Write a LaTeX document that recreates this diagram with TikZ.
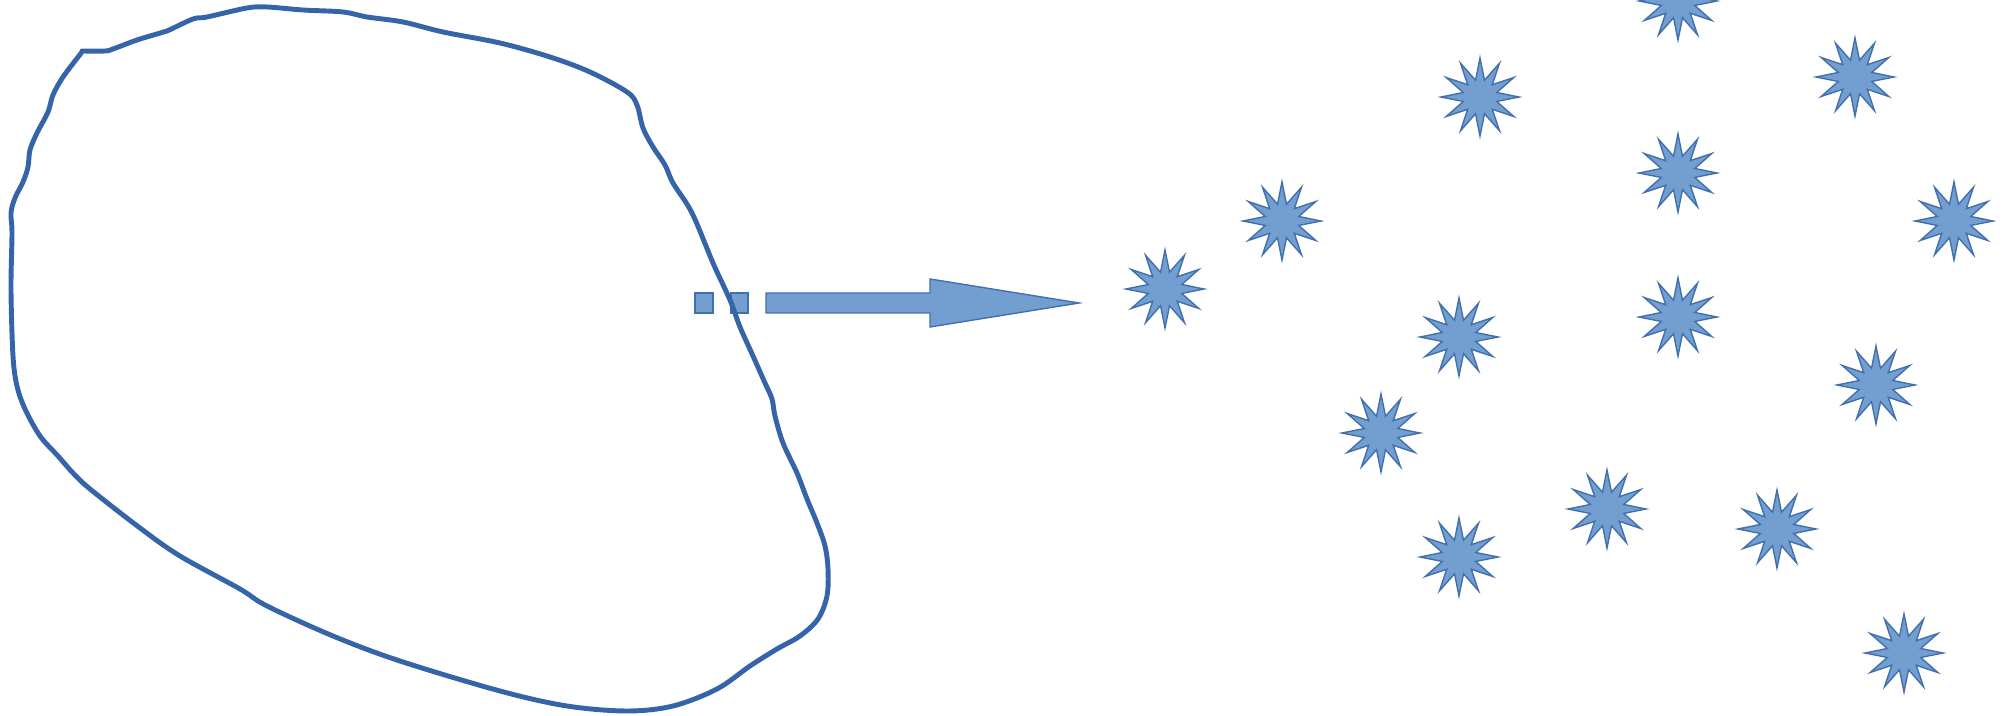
\documentclass[tikz,border=0pt]{standalone}
\usepackage{tikz}
\usetikzlibrary{shapes.geometric}
\definecolor{blobline}{HTML}{3565A8}
\definecolor{burstfill}{HTML}{729FCF}
\definecolor{burstline}{HTML}{4270AE}

\begin{document}
\begin{tikzpicture}[x=0.01cm,y=-0.01cm,
  burst/.style={star,star points=12,star point ratio=2.25,minimum size=0.78cm,
    inner sep=0pt,fill=burstfill,draw=burstline,line width=0.4pt},
  block/.style={fill=burstfill,draw=burstline,line width=0.4pt}]
\useasboundingbox (0,0) rectangle (2002,716);
\clip (0,0) rectangle (2002,716);
\draw[block] (695,293) rectangle (713,313);
\draw[block] (731,293) rectangle (748,313);
\draw[block] (766,293) -- (930,293) -- (930,279) -- (1079,303)
  -- (930,327) -- (930,313) -- (766,313) -- cycle;
\draw[blobline,line width=1.4pt,line join=round,line cap=round]
  plot[smooth,tension=0.55] coordinates {
  (82,51) (105,51) (113,49) (137,40) (157,34) (167,31) (193,19) (207,17)
  (247,8) (267,7) (303,10) (343,12) (367,17) (403,22) (443,32) (500,43)
  (550,57) (590,72) (627,92) (637,105) (643,128) (653,147) (665,165)
  (673,183) (692,213) (713,263) (730,300) (740,327) (753,356) (765,383)
  (772,399) (775,416) (783,443) (797,473) (807,499) (817,523) (825,546)
  (828,569) (827,596) (818,619) (800,636) (777,649) (750,666) (717,689)
  (673,706) (627,711) (567,706) (500,691) (400,661) (333,636) (267,606)
  (240,589) (180,556) (140,528) (90,489) (73,473) (58,456) (40,436)
  (25,409) (17,386) (13,356) (11,290) (12,233) (11,213) (15,198) (23,182)
  (28,167) (30,150) (37,133) (48,112) (53,95) (63,77) (82,52)};
\foreach \x/\y [count=\i] in {
  1165/289,1282/221,1480/97,1678/1,1855/77,
  1678/173,1954/221,1678/317,1459/337,1876/385,
  1381/433,1607/509,1459/557,1777/529,1904/653
} \node[burst] (star\i) at (\x,\y) {};
\end{tikzpicture}
\end{document}
